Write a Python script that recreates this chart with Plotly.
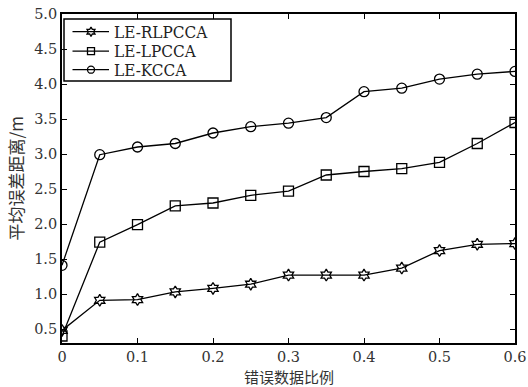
import plotly.graph_objects as go

x_vals = [0, 0.05, 0.1, 0.15, 0.2, 0.25, 0.3, 0.35, 0.4, 0.45, 0.5, 0.55, 0.6]
rlpcca = [0.48, 0.91, 0.92, 1.03, 1.08, 1.14, 1.27, 1.27, 1.27, 1.37, 1.62, 1.71, 1.72]
lpcca = [0.40, 1.74, 1.99, 2.26, 2.30, 2.41, 2.47, 2.70, 2.75, 2.79, 2.88, 3.15, 3.45]
kcca = [1.41, 2.99, 3.10, 3.15, 3.30, 3.39, 3.44, 3.52, 3.89, 3.94, 4.07, 4.14, 4.18]
names = ["LE-RLPCCA", "LE-LPCCA", "LE-KCCA"]
symbols = ["hexagram-open", "square-open", "circle-open"]
x_ticks = [0, 0.1, 0.2, 0.3, 0.4, 0.5, 0.6]
x_ticktext = ["0", "0.1", "0.2", "0.3", "0.4", "0.5", "0.6"]
y_ticks = [0.5, 1, 1.5, 2, 2.5, 3, 3.5, 4, 4.5, 5]
x_title = "错误数据比例"
y_title = "平均误差距离/m"

serif = "'DejaVu Serif', serif"
serif2 = "'DejaVu Serif Condensed', 'DejaVu Serif', serif"
cjk = "Noto Sans CJK SC"

W, H = 528, 387
ML, MR, MT, MB = 62, 13, 14, 44
PW, PH = W - ML - MR, H - MT - MB

fig = go.Figure()
for name, ys, sym in zip(names, [rlpcca, lpcca, kcca], symbols):
    fig.add_trace(go.Scatter(
        x=x_vals, y=ys, name=name, mode="lines+markers", showlegend=False,
        line=dict(color="black", width=1.3),
        marker=dict(symbol=sym, size=10 if sym != "hexagram-open" else 9,
                    color="black", line=dict(color="black", width=1.3)),
    ))

# custom compact legend (pixel space of plot area on overlay axes)
leg_box = dict(x0=2, x1=169, y0=5, y1=67)
row_y = [17.7, 37.2, 55.7]
for name, sym, ry in zip(names, symbols, row_y):
    fig.add_trace(go.Scatter(
        x=[10.5, 47], y=[ry, ry], mode="lines", xaxis="x2", yaxis="y2",
        line=dict(color="black", width=1.3), showlegend=False, hoverinfo="skip"))
    fig.add_trace(go.Scatter(
        x=[29], y=[ry], mode="markers", xaxis="x2", yaxis="y2", showlegend=False,
        marker=dict(symbol=sym, size=7, color="black", line=dict(color="black", width=1.3)),
        hoverinfo="skip"))
    fig.add_annotation(x=50, y=ry, xref="x2", yref="y2", text=name, showarrow=False,
                       xanchor="left", yanchor="middle",
                       font=dict(family=serif2, size=17, color="#222"))
fig.add_shape(type="rect", xref="x2", yref="y2", line=dict(color="black", width=1.5),
              fillcolor="rgba(0,0,0,0)", layer="below", **leg_box)

# axis titles as annotations
fig.add_annotation(x=0.5, y=-33.5 / PH, xref="paper", yref="paper", text=x_title,
                   showarrow=False, xanchor="center", yanchor="middle", borderpad=0,
                   font=dict(family=cjk, size=15, color="#333"))
fig.add_annotation(x=-47 / PW, y=0.5, xref="paper", yref="paper", text=y_title,
                   showarrow=False, xanchor="center", yanchor="middle", textangle=-90,
                   borderpad=0, font=dict(family=cjk, size=17, color="#333"))

axis_common = dict(
    showgrid=False, zeroline=False, showline=True, linecolor="black",
    linewidth=1.8, mirror="ticks", ticks="inside", ticklen=5, automargin=False,
    tickcolor="black", tickfont=dict(family=serif, size=14.5, color="#333"),
)
fig.update_layout(
    width=W, height=H,
    margin=dict(l=ML, r=MR, t=MT, b=MB),
    paper_bgcolor="white", plot_bgcolor="white",
    showlegend=False,
    xaxis=dict(range=[0, 0.6], tickvals=x_ticks, ticktext=x_ticktext, **axis_common),
    yaxis=dict(range=[0.3, 5.0], tickvals=y_ticks, tickformat=".1f", **axis_common),
    xaxis2=dict(range=[0, PW], overlaying="x", visible=False, fixedrange=True),
    yaxis2=dict(range=[PH, 0], overlaying="y", visible=False, fixedrange=True),
)
fig.write_html("out.html")
